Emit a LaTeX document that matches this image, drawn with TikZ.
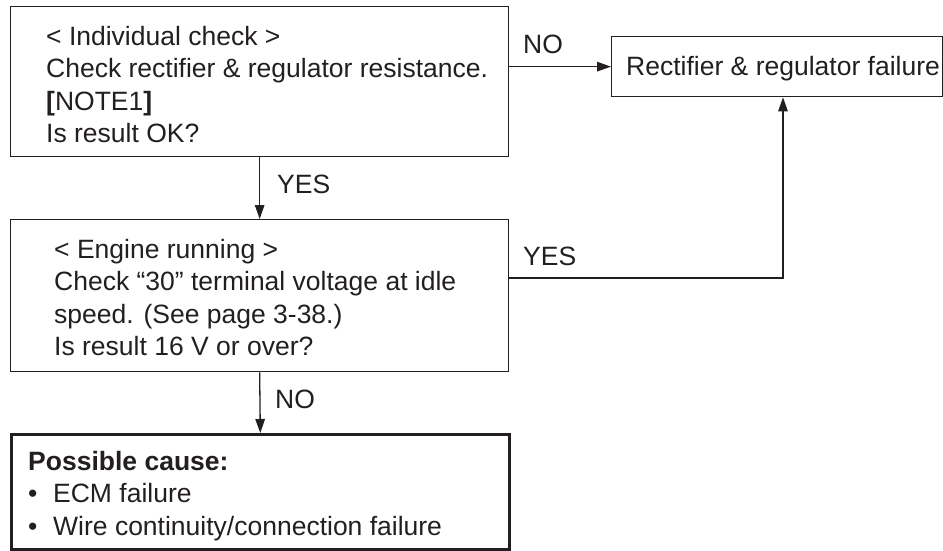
\documentclass[tikz,border=0pt]{standalone}
\usepackage{fontspec}
\setmainfont{Liberation Sans}
\usetikzlibrary{arrows.meta,calc}
\definecolor{ink}{RGB}{35,31,32}
% several left-aligned lines whose baseline is that of the first line
\newcommand\textlines[1]{\begin{tabular}[t]{@{}l@{}}#1\end{tabular}}
\newcommand\bulletitem[1]{\makebox[25pt][l]{•}#1}
\begin{document}
\begin{tikzpicture}[x=1pt,y=-1pt,
  every node/.style={font=\fontsize{26.5}{32.5}\selectfont, text=ink},
  box/.style={draw=ink, line width=1.3pt, inner sep=0pt, anchor=north west},
  finalbox/.style={draw=ink, line width=2.6pt, inner sep=0pt, anchor=north west},
  txt/.style={anchor=base west, inner sep=0pt},
  lbl/.style={anchor=base west, inner sep=0pt},
  flow/.style={draw=ink, line width=1.3pt, -{Triangle[length=14pt,width=9.5pt]}}]
\useasboundingbox (0,0) rectangle (943,550);

% boxes
\node[box, minimum width=498pt, minimum height=150pt] (b1) at (10,6) {};
\node[box, minimum width=331pt, minimum height=60pt] (b2) at (611,36) {};
\node[box, minimum width=498pt, minimum height=152pt] (b3) at (10,219) {};
\node[finalbox, minimum width=498pt, minimum height=115pt] (b4) at (10,433) {};

% box texts
\node[txt] (t1) at (46,45) {\textlines{%
  < Individual check >\\
  Check rectifier \& regulator resistance.\\
  \textbf{[}NOTE1\textbf{]}\\
  Is result OK?}};
\node[txt] (t2) at (626,75) {Rectifier \& regulator failure};
\node[txt] (t3) at (54,258) {\textlines{%
  < Engine running >\\
  Check “30” terminal voltage at idle\\
  speed. (See page 3-38.)\\
  Is result 16 V or over?}};
\node[txt] (t4) at (28,470) {\textlines{%
  \textbf{Possible cause:}\\
  \bulletitem{ECM failure}\\
  \bulletitem{Wire continuity/connection failure}}};

% connectors
\coordinate (c1) at (b1.east |- b2.west);
\draw[flow] (c1) -- (b2.west);
\draw[flow] (b1.south) -- (b3.north);
\coordinate (c2) at (508,278);
\coordinate (c3) at (783,278);
\draw[flow] (c2) -- (c3) -- (c3 |- b2.south);
\draw[flow] (b3.south) -- (b4.north);

% connector labels
\node[lbl] (l1) at (523,53) {NO};
\node[lbl] (l2) at (277,193) {YES};
\node[lbl] (l3) at (523,265) {YES};
\node[lbl] (l4) at (275,408) {NO};
\end{tikzpicture}
\end{document}
